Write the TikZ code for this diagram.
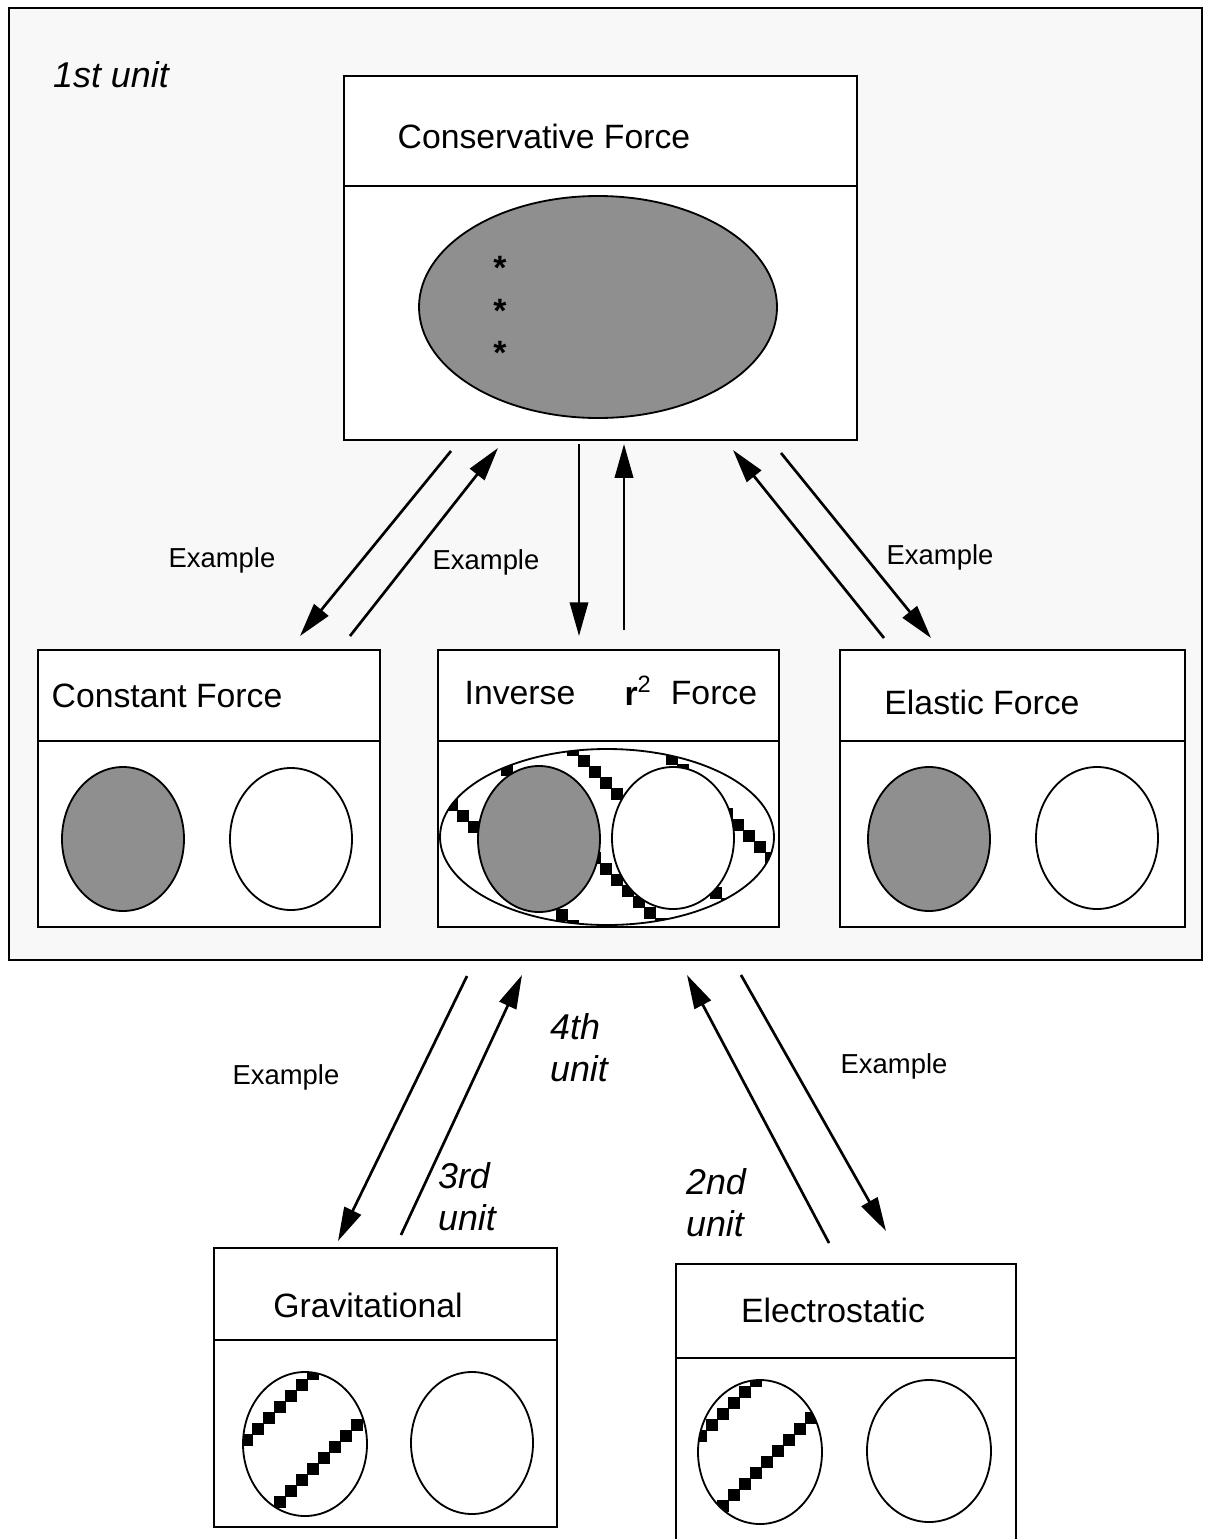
\documentclass[tikz,border=0pt]{standalone}
\usepackage{fontspec}
\setmainfont{Liberation Sans}
\usetikzlibrary{arrows.meta}

\definecolor{shade}{gray}{0.56}
\definecolor{panel}{gray}{0.972}
\def\pxu{0.025cm}

\tikzset{
  box/.style={draw, line width=1.3pt, fill=white, inner sep=0pt},
  title/.style={font=\fontsize{24}{28}\selectfont},
  tag/.style={font=\fontsize{19.5}{23}\selectfont},
  unit/.style={font=\fontsize{25.5}{30}\selectfont\itshape, align=left},
  star/.style={font=\fontsize{24}{26}\selectfont\bfseries},
  blob/.style={draw, line width=1.3pt},
  link/.style={line width=1.9pt, -{Triangle[length=24pt, width=13pt]}},
}

\begin{document}
\begin{tikzpicture}[x=\pxu, y=-\pxu]
\useasboundingbox (0,0) rectangle (1204,1539);

% 1st unit panel
\node[box, fill=panel, minimum width=1193*\pxu, minimum height=952*\pxu] (unit1) at (605.5,484) {};
\node[unit] (u1) at (111,75) {1st unit};

% conservative force
\node[box, minimum width=513*\pxu, minimum height=364*\pxu] (cons) at (600.5,258) {};
\draw[line width=1.3pt] (cons.west |- 0,186) -- (cons.east |- 0,186);
\node[title] (consT) at (544,136) {Conservative Force};
\draw[blob, fill=shade] (598,307) ellipse [x radius=179, y radius=111];
\node[star] (s1) at (500,268) {*};
\node[star] (s2) at (500,311) {*};
\node[star] (s3) at (500,353) {*};

% constant force
\node[box, minimum width=342*\pxu, minimum height=277*\pxu] (const) at (209,788.5) {};
\draw[line width=1.3pt] (const.west |- 0,741) -- (const.east |- 0,741);
\node[title] (constT) at (167,696) {Constant Force};
\draw[blob, fill=shade] (123,839) ellipse [x radius=61, y radius=72];
\draw[blob, fill=white] (291,839) ellipse [x radius=61, y radius=71];

% inverse r^2 force
\node[box, minimum width=341*\pxu, minimum height=277*\pxu] (inv) at (608.5,788.5) {};
\draw[line width=1.3pt] (inv.west |- 0,741) -- (inv.east |- 0,741);
\node[title] (invA) at (520,693) {Inverse};
\node[title] (invB) at (638,691) {\textbf{r}\textsuperscript{2}};
\node[title] (invC) at (714,693) {Force};
\begin{scope}
\clip (607,837) ellipse [x radius=167, y radius=88];
\foreach \d in {353,263,177,87}
  \foreach \x in {430,441,...,790}
    \fill (\x-5.6,\x+\d-5.6) rectangle ++(11.2,11.2);
\end{scope}
\draw[blob] (607,837) ellipse [x radius=167, y radius=88];
\draw[blob, fill=shade] (539,839) ellipse [x radius=61, y radius=73];
\draw[blob, fill=white] (673,838) ellipse [x radius=61, y radius=71];

% elastic force
\node[box, minimum width=345*\pxu, minimum height=277*\pxu] (elas) at (1012.5,788.5) {};
\draw[line width=1.3pt] (elas.west |- 0,741) -- (elas.east |- 0,741);
\node[title] (elasT) at (982,702) {Elastic Force};
\draw[blob, fill=shade] (929,839) ellipse [x radius=61, y radius=72];
\draw[blob, fill=white] (1097,838) ellipse [x radius=61, y radius=71];

% gravitational
\node[box, minimum width=343*\pxu, minimum height=279*\pxu] (grav) at (385.5,1387.5) {};
\draw[line width=1.3pt] (grav.west |- 0,1340) -- (grav.east |- 0,1340);
\node[title] (gravT) at (368,1305) {Gravitational};
\begin{scope}
\clip (305,1444) ellipse [x radius=62, y radius=72];
\foreach \s in {1687,1782}
  \foreach \x in {236,247,...,380}
    \fill (\x-5.6,\s-\x-5.6) rectangle ++(11.2,11.2);
\end{scope}
\draw[blob] (305,1444) ellipse [x radius=62, y radius=72];
\draw[blob] (472,1443) ellipse [x radius=61, y radius=71];

% electrostatic
\node[box, minimum width=340*\pxu, minimum height=281*\pxu] (elec) at (846,1404.5) {};
\draw[line width=1.3pt] (elec.west |- 0,1358) -- (elec.east |- 0,1358);
\node[title] (elecT) at (833,1310) {Electrostatic};
\begin{scope}
\clip (760,1452) ellipse [x radius=62, y radius=72];
\foreach \s in {2137,2229}
  \foreach \x in {690,701,...,835}
    \fill (\x-5.6,\s-\x-5.6) rectangle ++(11.2,11.2);
\end{scope}
\draw[blob] (760,1452) ellipse [x radius=62, y radius=72];
\draw[blob] (929,1451) ellipse [x radius=62, y radius=71];

% arrow ends
\coordinate (a1) at (451,451);  \coordinate (b1) at (300,636);
\coordinate (a2) at (498,448);  \coordinate (b2) at (350,636);
\coordinate (a3) at (579,444);  \coordinate (b3) at (579,636);
\coordinate (a4) at (624,444);  \coordinate (b4) at (624,630);
\coordinate (a5) at (733,450);  \coordinate (b5) at (884,638);
\coordinate (a6) at (781,453);  \coordinate (b6) at (931,638);
\coordinate (a7) at (467,976);  \coordinate (b7) at (338,1241);
\coordinate (a8) at (522,975);  \coordinate (b8) at (401,1235);
\coordinate (a9) at (687,975);  \coordinate (b9) at (829,1243);
\coordinate (a10) at (741,975); \coordinate (b10) at (886,1231);

\draw[link] (a1) -- (b1);
\draw[link] (b2) -- (a2);
\draw[link] (a3) -- (b3);
\draw[link] (b4) -- (a4);
\draw[link] (b5) -- (a5);
\draw[link] (a6) -- (b6);
\draw[link] (a7) -- (b7);
\draw[link] (b8) -- (a8);
\draw[link] (b9) -- (a9);
\draw[link] (a10) -- (b10);

% labels
\node[tag] (e1) at (222,560) {Example};
\node[tag] (e2) at (486,562) {Example};
\node[tag] (e3) at (940,557) {Example};
\node[tag] (e4) at (286,1077) {Example};
\node[tag] (e5) at (894,1066) {Example};
\node[unit] (u4) at (579,1048) {4th\\unit};
\node[unit] (u3) at (467,1197) {3rd\\unit};
\node[unit] (u2) at (716,1203) {2nd\\unit};
\end{tikzpicture}
\end{document}
